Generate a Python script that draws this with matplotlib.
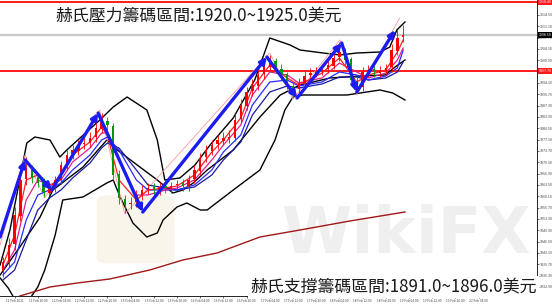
import matplotlib
matplotlib.use("Agg")
import matplotlib.pyplot as plt
import matplotlib.transforms as mtransforms
from matplotlib.patches import FancyBboxPatch

plt.rcParams["font.family"] = ["Noto Sans CJK TC", "DejaVu Sans"]

# ── Candles (one per index) ─────────────────────────────────
opens = [1837.6, 1840.2, 1845.8, 1854.3, 1865.2, 1868.4, 1865.8, 1864.3, 1861.2, 1862.8,
         1865.1, 1869.3, 1872.7, 1873.8, 1875.7, 1876.0, 1877.8, 1880.4, 1882.6, 1881.3,
         1866.7, 1859.4, 1857.7, 1858.3, 1860.3, 1862.2, 1862.8, 1861.8, 1863.1, 1862.4,
         1863.4, 1864.0, 1863.0, 1865.2, 1867.8, 1871.8, 1873.8, 1875.7, 1876.8, 1877.4,
         1877.7, 1883.2, 1887.3, 1891.6, 1893.3, 1896.7, 1899.0, 1900.6, 1898.4, 1896.7,
         1893.3, 1892.2, 1893.9, 1896.4, 1896.9, 1897.6, 1898.2, 1899.3, 1901.8, 1903.6,
         1901.2, 1894.8, 1892.8, 1897.2, 1898.2, 1897.2, 1897.8, 1898.8, 1903.8, 1907.8]
closes = [1840.4, 1845.5, 1854.5, 1865.0, 1868.6, 1865.6, 1864.1, 1861.4, 1862.6, 1865.0,
          1869.5, 1872.5, 1874.0, 1875.5, 1876.1, 1877.6, 1880.6, 1882.4, 1881.5, 1866.5,
          1859.6, 1857.5, 1858.1, 1860.5, 1862.0, 1862.6, 1862.0, 1862.9, 1862.6, 1863.2,
          1863.8, 1863.2, 1865.0, 1868.0, 1871.6, 1874.0, 1875.5, 1877.0, 1877.6, 1877.9,
          1883.0, 1887.5, 1891.4, 1893.5, 1896.5, 1899.2, 1900.4, 1898.6, 1896.5, 1893.5,
          1892.0, 1894.1, 1896.2, 1897.1, 1897.4, 1898.0, 1899.5, 1901.6, 1903.4, 1901.0,
          1895.0, 1892.6, 1897.4, 1898.0, 1897.4, 1898.0, 1898.6, 1904.0, 1907.6, 1908.5]
highs = [1842.0, 1847.5, 1856.8, 1867.5, 1872.0, 1869.5, 1867.0, 1865.5, 1864.0, 1866.2,
         1870.8, 1874.0, 1875.6, 1877.0, 1877.8, 1879.5, 1882.5, 1885.1, 1883.8, 1882.0,
         1868.0, 1860.5, 1859.8, 1862.0, 1863.5, 1864.0, 1864.2, 1864.5, 1864.0, 1864.4,
         1865.0, 1865.3, 1866.4, 1869.6, 1873.0, 1875.5, 1877.0, 1878.6, 1879.4, 1880.0,
         1884.8, 1889.3, 1893.0, 1895.4, 1898.5, 1901.5, 1902.6, 1901.5, 1899.8, 1897.5,
         1894.5, 1895.6, 1897.8, 1898.6, 1899.0, 1899.6, 1901.0, 1903.2, 1906.4, 1904.5,
         1902.0, 1896.0, 1898.8, 1899.4, 1899.5, 1899.2, 1899.8, 1905.8, 1910.0, 1911.5]
lows = [1836.0, 1838.8, 1844.0, 1852.8, 1863.6, 1864.2, 1862.8, 1859.9, 1860.1, 1861.5,
        1863.8, 1868.0, 1871.2, 1872.4, 1874.2, 1874.9, 1876.5, 1879.2, 1880.0, 1865.0,
        1857.8, 1855.1, 1856.3, 1857.0, 1859.0, 1860.8, 1860.6, 1860.5, 1861.2, 1861.0,
        1862.0, 1861.8, 1861.6, 1864.0, 1866.5, 1870.4, 1872.6, 1874.4, 1875.5, 1876.0,
        1876.6, 1882.0, 1886.0, 1890.2, 1892.0, 1895.4, 1897.8, 1897.2, 1895.0, 1892.2,
        1889.9, 1891.0, 1892.8, 1895.2, 1895.8, 1896.4, 1897.0, 1898.2, 1900.6, 1899.5,
        1893.6, 1891.1, 1891.8, 1896.0, 1896.0, 1895.9, 1896.5, 1897.5, 1902.6, 1906.5]

# ── Moving averages (sampled at candle indices) ─────────────
ma_idx = [0, 2, 4, 6, 8, 10, 12, 15, 17, 18, 20, 23, 25, 28, 30,
          33, 36, 38, 41, 43, 46, 49, 51, 55, 58, 61, 63, 66, 68, 69]
ma_red = [1839.5, 1848.5, 1865.0, 1866.5, 1862.6, 1866.5, 1872.5, 1876.4, 1880.9, 1878.5,
          1865.0, 1859.0, 1862.0, 1862.6, 1863.2, 1866.5, 1873.4, 1877.0, 1883.6, 1892.6,
          1899.5, 1895.6, 1893.5, 1897.1, 1901.6, 1894.4, 1896.5, 1898.0, 1903.4, 1907.0]
ma_pink = [1838.0, 1844.0, 1859.0, 1865.0, 1863.5, 1865.0, 1870.4, 1874.6, 1879.1, 1879.1,
           1871.0, 1860.5, 1860.5, 1862.0, 1862.6, 1865.0, 1871.0, 1875.5, 1881.5, 1890.5,
           1897.4, 1896.5, 1894.1, 1895.6, 1900.1, 1897.4, 1895.6, 1897.1, 1901.0, 1904.6]
ma_blue = [1836.5, 1840.4, 1853.0, 1860.5, 1862.0, 1864.1, 1868.0, 1872.5, 1877.0, 1877.9,
           1874.0, 1865.0, 1862.0, 1862.0, 1862.0, 1863.5, 1868.0, 1873.4, 1878.5, 1887.5,
           1894.4, 1895.0, 1893.2, 1894.4, 1897.4, 1896.5, 1895.0, 1896.2, 1898.6, 1904.0]
ma_navy = [1835.0, 1838.0, 1847.0, 1856.0, 1859.6, 1862.0, 1865.6, 1870.1, 1874.6, 1876.1,
           1874.6, 1868.0, 1863.5, 1862.6, 1862.0, 1862.9, 1866.5, 1871.0, 1876.4, 1884.5,
           1891.4, 1893.2, 1892.6, 1893.8, 1895.9, 1895.9, 1895.0, 1895.6, 1897.4, 1900.4]

# ── Bollinger bands ─────────────────────────────────────────
upper_idx = [-0.5, 1.2, 4.1, 5.5, 8.1, 9.8, 11.0, 16.7, 19.0, 21.4, 24.8, 26.6, 27.9, 30.5,
             33.1, 35.7, 39.7, 43.4, 46.0, 49.5, 51.2, 55.2, 58.1, 61.0, 65.0, 66.7, 67.9, 69.3]
upper_band = [1839.5, 1850.0, 1876.1, 1877.9, 1877.0, 1871.9, 1874.0, 1883.0, 1886.9, 1889.9,
              1886.0, 1877.0, 1865.0, 1865.6, 1869.5, 1875.5, 1883.6, 1895.0, 1907.6, 1905.5,
              1904.0, 1903.1, 1902.5, 1903.1, 1903.4, 1904.9, 1910.0, 1912.4]
mid_idx = [-0.5, 2.9, 6.4, 8.6, 13.8, 17.9, 19.7, 23.6, 26.6, 29.3, 31.0,
           32.8, 35.2, 39.7, 44.3, 47.8, 51.2, 56.4, 61.6, 65.9, 67.6, 69.3]
mid_band = [1836.5, 1844.9, 1853.9, 1862.0, 1868.9, 1877.0, 1874.0, 1868.9, 1865.0, 1861.1, 1862.0,
            1864.1, 1868.0, 1874.0, 1883.9, 1890.5, 1893.5, 1895.6, 1896.2, 1896.5, 1898.9, 1901.0]
lower_idx = [-0.5, 0.9, 2.1, 4.7, 6.0, 7.2, 9.0, 10.3, 13.8, 17.9, 19.0, 20.2, 22.4, 24.8, 26.6,
             27.6, 30.0, 31.7, 34.0, 35.2, 39.7, 44.3, 46.9, 48.6, 50.0, 51.7, 59.3, 65.0, 67.2, 69.3]
lower_band = [1835.6, 1832.6, 1829.0, 1829.6, 1832.9, 1838.0, 1848.5, 1859.0, 1859.9, 1864.1,
              1865.0, 1859.9, 1852.1, 1847.9, 1849.1, 1853.0, 1856.9, 1858.1, 1856.0, 1856.0,
              1862.0, 1868.0, 1877.0, 1886.0, 1889.9, 1890.5, 1890.5, 1892.0, 1891.1, 1889.0]

# ── Long MA (dark red) ──────────────────────────────────────
long_idx = [2.9, 8.1, 12.8, 18.4, 25.3, 31.0, 36.9, 44.3, 51.2, 59.8, 69.3]
long_ma = [1830.2, 1832.9, 1834.1, 1835.3, 1838.0, 1841.0, 1843.1, 1847.9, 1850.0, 1852.7, 1855.4]

# ── Zigzag (thin pink) and blue wave arrows ─────────────────
zz_idx = [-0.5, 3.8, 7.2, 16.7, 21.0, 46.0, 50.0, 58.1, 61.0, 68.4]
zz_val = [1845.5, 1872.5, 1859.6, 1886.0, 1854.8, 1903.1, 1889.3, 1907.0, 1890.5, 1913.6]
wave_idx = [-0.5, 3.8, 8.4, 16.4, 24.1, 45.5, 50.7, 58.4, 61.0, 67.6]
wave_val = [1847.9, 1871.0, 1862.0, 1885.1, 1855.4, 1901.9, 1889.6, 1906.1, 1891.4, 1910.0]

# ── Levels and axis labels ──────────────────────────────────
red_levels = [1918.4, 1897.7]
last_price = 1908.5
y_ticks = [1914.5 - 3.4 * k for k in range(0, 25)]
x_tick_idx = list(range(2, 84, 4))
x_tick_labels = ["11 Feb 2021", "11 Feb 20:00", "12 Feb 04:00", "12 Feb 12:00", "12 Feb 20:00",
                 "15 Feb 04:00", "15 Feb 12:00", "15 Feb 20:00", "16 Feb 04:00", "16 Feb 12:00",
                 "16 Feb 20:00", "17 Feb 04:00", "17 Feb 12:00", "17 Feb 20:00", "18 Feb 04:00",
                 "18 Feb 12:00", "18 Feb 20:00", "19 Feb 04:00", "19 Feb 12:00", "19 Feb 20:00",
                 "22 Feb 04:00"]

title_top = "赫氏壓力籌碼區間:1920.0~1925.0美元"
title_bottom = "赫氏支撐籌碼區間:1891.0~1896.0美元"

# ── Figure ──────────────────────────────────────────────────
fig = plt.figure(figsize=(5.52, 3.04), dpi=100)
fig.patch.set_facecolor("white")
ax = fig.add_axes([0, 8 / 304, 537 / 552, 296 / 304])
ax.set_xlim(-0.517, 92.07)
ax.set_ylim(1830.2, 1919.0)

# watermark
ax.text(0.755, 0.205, "WikiFX", transform=ax.transAxes, fontsize=46, fontweight="bold",
        color="#e2e2e2", alpha=0.55, ha="center", va="center", zorder=1,
        family="DejaVu Sans")
ax.add_patch(FancyBboxPatch((0.18, 0.11), 0.145, 0.23, boxstyle="round,pad=0,rounding_size=0.02",
                            transform=ax.transAxes, facecolor="#f6efdf", edgecolor="none",
                            alpha=0.6, zorder=1))

# levels
for lv in red_levels:
    ax.axhline(lv, color="#ff1a1a", lw=1.4, zorder=2)
ax.axhline(last_price, color="#c8c8c8", lw=1.6, zorder=2)

# bands and MAs
ax.plot(upper_idx, upper_band, color="black", lw=1.0, zorder=3)
ax.plot(mid_idx, mid_band, color="black", lw=1.0, zorder=3)
ax.plot(lower_idx, lower_band, color="black", lw=1.0, zorder=3)
ax.plot(long_idx, long_ma, color="#a01818", lw=1.0, zorder=3)
ax.plot(zz_idx, zz_val, color="#ff9a9a", lw=0.6, zorder=3)
ax.plot(ma_idx, ma_navy, color="#1a1aa0", lw=0.9, zorder=4)
ax.plot(ma_idx, ma_blue, color="#2a2aff", lw=0.9, zorder=4)
ax.plot(ma_idx, ma_pink, color="#e0208a", lw=0.9, zorder=4)
ax.plot(ma_idx, ma_red, color="#ff2020", lw=0.9, zorder=4)

# candles
for i, (o, h, l, c) in enumerate(zip(opens, highs, lows, closes)):
    col = "#ff0000" if c >= o else "#009a00"
    ax.vlines(i, l, h, color=col, lw=0.6, zorder=5)
    ax.bar(i, max(abs(c - o), 0.25), bottom=min(o, c), width=0.4, color=col, zorder=5)

# blue wave arrows
for k in range(len(wave_idx) - 1):
    ax.annotate("", xy=(wave_idx[k + 1], wave_val[k + 1]), xytext=(wave_idx[k], wave_val[k]),
                arrowprops=dict(arrowstyle="-|>", color="#1c1cf0", lw=2.4,
                                mutation_scale=9, shrinkA=0, shrinkB=0), zorder=6)

# axes styling
for s in ["top", "left"]:
    ax.spines[s].set_visible(False)
ax.spines["right"].set_linewidth(0.6)
ax.spines["bottom"].set_linewidth(0.6)
ax.yaxis.tick_right()
ax.set_yticks(y_ticks)
ax.set_yticklabels([f"{v:.2f}" for v in y_ticks])
ax.tick_params(axis="y", labelsize=2.6, pad=0.8, length=1.5, width=0.4, labelcolor="#444444")
ax.set_xticks(x_tick_idx)
ax.set_xticklabels(x_tick_labels)
ax.tick_params(axis="x", labelsize=2.3, pad=0.6, length=1.5, width=0.4, labelcolor="#444444")

# price tags on the axis
trans = mtransforms.blended_transform_factory(ax.transAxes, ax.transData)
for lv in red_levels:
    ax.text(1.004, lv, f"{lv:.2f}", transform=trans, fontsize=2.6, color="white",
            va="center", ha="left", bbox=dict(facecolor="#ff1a1a", edgecolor="none", pad=0.7))
ax.text(1.004, last_price, f"{last_price:.2f}", transform=trans, fontsize=2.6, color="white",
        va="center", ha="left", bbox=dict(facecolor="black", edgecolor="none", pad=0.7))

# titles
fig.text(55 / 552, 1 - 16 / 304, title_top, fontsize=12.2, color="#1a1a1a",
         ha="left", va="center")
fig.text(250 / 552, 1 - 287 / 304, title_bottom, fontsize=12.2, color="#1a1a1a",
         ha="left", va="center",
         bbox=dict(facecolor="white", edgecolor="none", pad=1.5))

fig.savefig("out.png", dpi=100, facecolor="white")
